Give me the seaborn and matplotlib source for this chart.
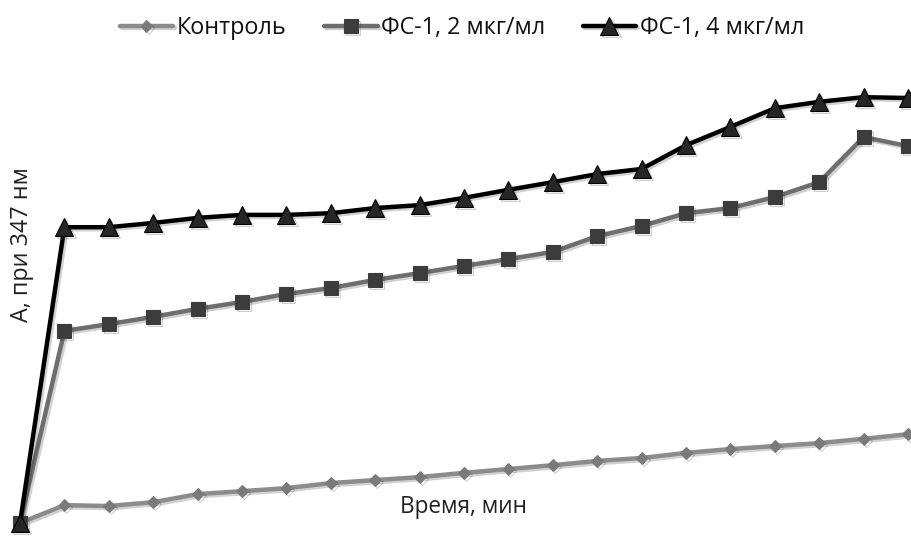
import matplotlib
matplotlib.use("Agg")
import matplotlib.pyplot as plt
import matplotlib.patheffects as pe
import seaborn as sns
import pandas as pd

time_min = list(range(21))
control = [0, 0.042, 0.040, 0.049, 0.068, 0.075, 0.082, 0.094, 0.101, 0.108, 0.118,
           0.127, 0.136, 0.146, 0.153, 0.165, 0.174, 0.181, 0.188, 0.198, 0.209]
fs1_2 = [0, 0.452, 0.468, 0.485, 0.504, 0.520, 0.539, 0.553, 0.572, 0.588, 0.605,
         0.621, 0.638, 0.675, 0.699, 0.729, 0.741, 0.767, 0.802, 0.908, 0.887]
fs1_4 = [0, 0.696, 0.696, 0.706, 0.718, 0.725, 0.725, 0.729, 0.741, 0.748, 0.765,
         0.784, 0.802, 0.821, 0.833, 0.889, 0.932, 0.976, 0.991, 1.002, 1.000]
series_names = ["Контроль", "ФС-1, 2 мкг/мл", "ФС-1, 4 мкг/мл"]
x_label = "Время, мин"
y_label = "А, при 347 нм"

sns.set_theme(style="white")
plt.rcParams['font.family'] = ['Open Sans', 'DejaVu Sans']

fig = plt.figure(figsize=(9.11, 5.36), dpi=100)
ax = fig.add_axes([20/911, 13/536, 888/911, 425/536])

styles = [
    dict(color="#8c8c8c", marker="D", markersize=6, mfc="#7a7a7a", mec="#7a7a7a", lw=3.2),
    dict(color="#6e6e6e", marker="s", markersize=10, mfc="#3c3c3c", mec="#3c3c3c", lw=3.2),
    dict(color="#000000", marker="^", markersize=13, mfc="#262626", mec="#000000", lw=3.2),
]
shadow = [pe.SimpleLineShadow(offset=(1.5, -1.5), shadow_color="k", alpha=0.2), pe.Normal()]

for vals, name, st in zip([control, fs1_2, fs1_4], series_names, styles):
    df = pd.DataFrame({"t": time_min, "A": vals})
    sns.lineplot(data=df, x="t", y="A", ax=ax, label=name, errorbar=None,
                 color=st["color"], marker=st["marker"], markersize=st["markersize"],
                 markerfacecolor=st["mfc"], markeredgecolor=st["mec"],
                 markeredgewidth=0.8, linewidth=st["lw"], clip_on=False)
    ax.lines[-1].set_path_effects(shadow)

ax.set_xlim(0, 20)
ax.set_ylim(0, 1.0)
ax.set_xticks([])
ax.set_yticks([])
for s in ax.spines.values():
    s.set_visible(False)
ax.set_facecolor("none")

ax.set_xlabel(x_label, fontsize=16.3, color="#222222", va="center")
ax.xaxis.set_label_coords(0.5, 0.038)
ax.set_ylabel(y_label, fontsize=16.8, color="#222222", va="center", ha="center")
ax.yaxis.set_label_coords(0.002, 0.654)

ax.get_legend().remove()
handles, labels = ax.get_legend_handles_labels()
fig.legend(handles, labels, loc="center", bbox_to_anchor=(0.507, 0.948), ncol=3,
           frameon=False, fontsize=16.8, handlelength=2.3, columnspacing=1.6,
           handletextpad=0.15, labelcolor="#111111")

fig.savefig("out.png", dpi=100, facecolor="white")
